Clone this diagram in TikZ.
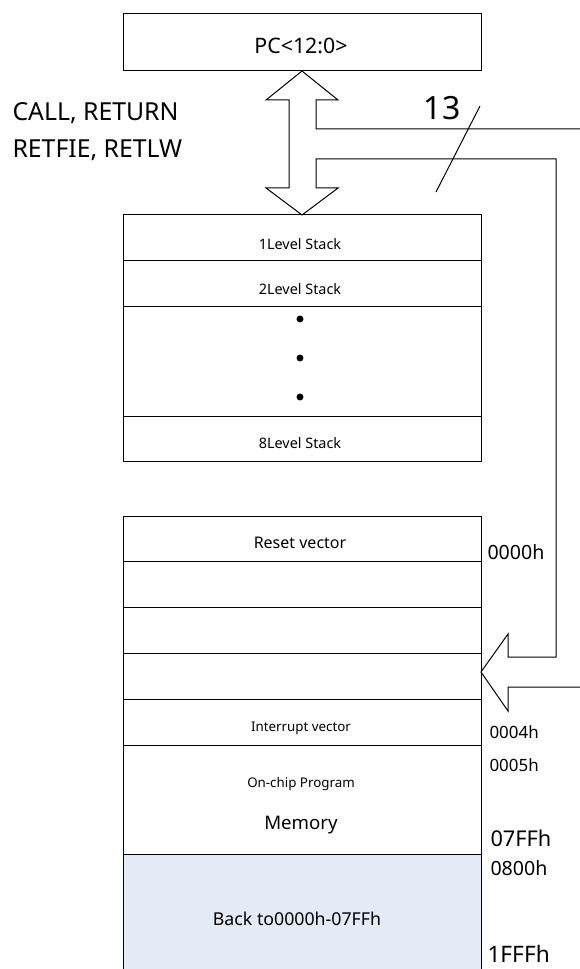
\documentclass[tikz,border=0pt]{standalone}
\usepackage{fontspec}
\setmainfont{Noto Sans}
\definecolor{backfill}{RGB}{228,235,246}

\begin{document}
\begin{tikzpicture}[x=0.75pt, y=-0.75pt, line width=0.75pt, line join=miter,
    cell/.style={draw, inner sep=0pt, outer sep=0pt, minimum width=268.5pt},
    txt/.style={inner sep=0pt, font=\fontsize{#1}{#1}\selectfont},
    addr/.style={inner sep=0pt, anchor=west, font=\fontsize{#1}{#1}\selectfont}]
  \useasboundingbox (0,0) rectangle (580,969);
  % program counter
  \node[cell, minimum height=42.75pt] (pc) at (302,42.5) {};
  \node[txt=16] (pctext) at (301,46) {PC<12:0>};
  \node[anchor=north west, inner sep=0pt, align=left,
        font=\fontsize{18.6}{27.75}\selectfont] (instr) at (12,102) {CALL, RETURN\\RETFIE, RETLW};
  % 8-level stack
  \node[cell, minimum height=34.5pt] (s1) at (302,238) {};
  \node[cell, minimum height=34.5pt] (s2) at (302,284) {};
  \node[cell, minimum height=81.75pt] (sdots) at (302,361.5) {};
  \node[cell, minimum height=33.75pt] (s8) at (302,438.5) {};
  \node[txt=10.8] (s1text) at (300,244) {1Level Stack};
  \node[txt=10.8] (s2text) at (300,289) {2Level Stack};
  \node[txt=10.8] (s8text) at (300,443) {8Level Stack};
  \foreach \y in {319,358,397}
    \fill (300,\y) circle[radius=2.6pt];
  % program memory
  \node[cell, minimum height=33.75pt] (m0) at (302,538.5) {};
  \node[cell, minimum height=34.5pt] (m1) at (302,584) {};
  \node[cell, minimum height=34.5pt] (m2) at (302,630) {};
  \node[cell, minimum height=34.5pt] (m3) at (302,676) {};
  \node[cell, minimum height=34.5pt] (m4) at (302,722) {};
  \node[cell, minimum height=81.75pt] (mprog) at (302,799.5) {};
  \node[cell, fill=backfill, minimum height=90.75pt] (mback) at (302,914.5) {};
  \node[txt=12] (m0text) at (300,543) {Reset vector};
  \node[txt=10] (m4text) at (301,728) {Interrupt vector};
  \node[txt=10] (progtext) at (301,784) {On-chip Program};
  \node[txt=14] (memtext) at (301,825) {Memory};
  \node[txt=13.3] (backtext) at (297,919) {Back to0000h-07FFh};
  % addresses
  \node[addr=14.7] (a0000) at (487,552) {0000h};
  \node[addr=12.7] (a0004) at (489,732) {0004h};
  \node[addr=12.7] (a0005) at (489,765) {0005h};
  \node[addr=16.3] (a07ff) at (490,838) {07FFh};
  \node[addr=14.7] (a0800) at (490,868) {0800h};
  \node[addr=17] (a1fff) at (487,954) {1FFFh};
  % 13-bit bus: PC <-> stack, and on to memory
  \coordinate (tipm) at ([yshift=3pt]m3.east);
  \draw (580,129) -- (316,129) -- (316,100) -- (338,100) -- (pc.south)
    -- (266,100) -- (289,100) -- (289,188) -- (266,188) -- (s1.north)
    -- (338,188) -- (316,188) -- (316,159) -- (556,159) -- (556,657)
    -- (508,657) -- (508,634) -- (tipm) -- (508,711) -- (508,687) -- (580,687);
  \draw (480,106) -- (436,192);
  \node[txt=24] (buswidth) at (442,108) {13};
\end{tikzpicture}
\end{document}
